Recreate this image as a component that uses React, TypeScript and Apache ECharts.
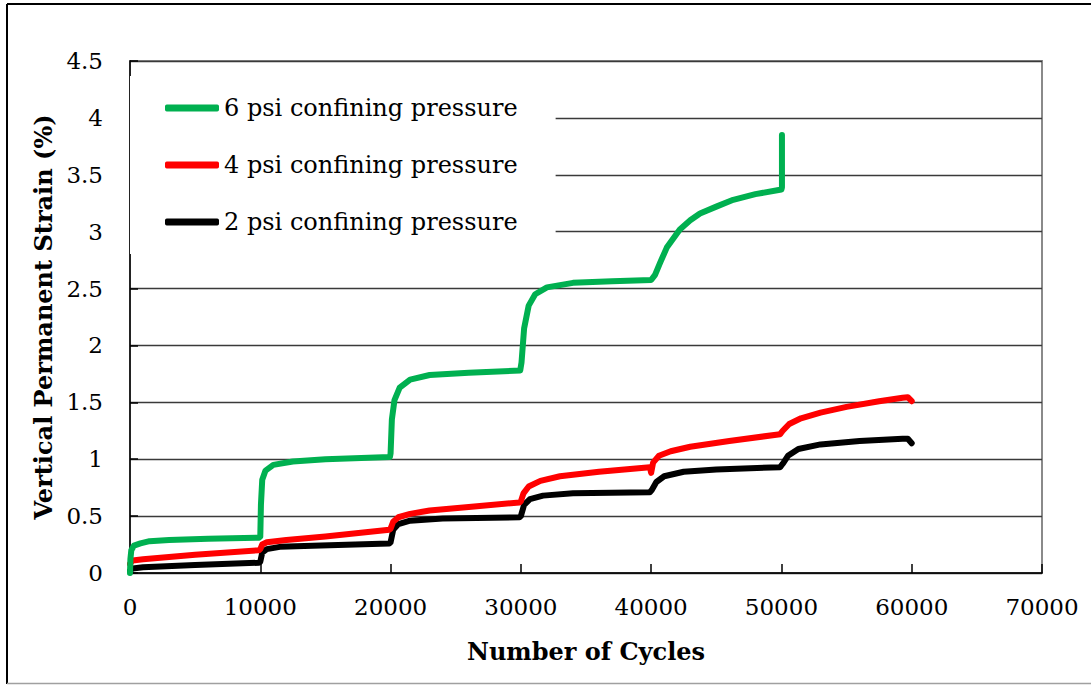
import React, { useEffect, useRef } from "react";
import * as echarts from "echarts";

const xTicks = [0, 10000, 20000, 30000, 40000, 50000, 60000, 70000];
const seriesNames = ["6 psi confining pressure", "4 psi confining pressure", "2 psi confining pressure"];
const seriesColors = ["#00b050", "#ff0000", "#000000"];

const cycles6 = [0, 30, 100, 300, 800, 1500, 3000, 6000, 9900, 10000, 10050, 10150, 10400, 11000, 12500, 15000, 19950, 20000, 20100, 20300, 20700, 21500, 23000, 26000, 29950, 30050, 30250, 30600, 31100, 32000, 34000, 37000, 40000, 40300, 40700, 41200, 42200, 43000, 43750, 45000, 46300, 48000, 50000, 50040, 50040];
const strain6 = [0, 0.12, 0.2, 0.24, 0.26, 0.28, 0.29, 0.3, 0.31, 0.32, 0.6, 0.82, 0.9, 0.95, 0.98, 1.0, 1.02, 1.05, 1.35, 1.52, 1.63, 1.7, 1.74, 1.76, 1.78, 1.85, 2.15, 2.35, 2.45, 2.51, 2.55, 2.565, 2.575, 2.62, 2.73, 2.86, 3.02, 3.1, 3.16, 3.22, 3.28, 3.33, 3.37, 3.39, 3.85];

const cycles4 = [0, 200, 1000, 5000, 9900, 10000, 10150, 10500, 12000, 15000, 19900, 20000, 20200, 20600, 21500, 23000, 26000, 29900, 30000, 30200, 30600, 31500, 33000, 36000, 39900, 40000, 40150, 40600, 41500, 43000, 46000, 49900, 50100, 50600, 51500, 53000, 55000, 57500, 59300, 59700, 60000];
const strain4 = [0.08, 0.11, 0.12, 0.16, 0.2, 0.21, 0.25, 0.27, 0.29, 0.32, 0.38, 0.39, 0.45, 0.49, 0.52, 0.55, 0.58, 0.62, 0.63, 0.7, 0.76, 0.81, 0.85, 0.89, 0.93, 0.88, 0.97, 1.03, 1.07, 1.11, 1.16, 1.22, 1.25, 1.31, 1.36, 1.41, 1.46, 1.51, 1.54, 1.545, 1.51];

const cycles2 = [0, 200, 1000, 5000, 9900, 10000, 10150, 10500, 11500, 14000, 19900, 20000, 20200, 20600, 21500, 24000, 29900, 30000, 30250, 30700, 31700, 34000, 39900, 40050, 40400, 41000, 42500, 45000, 49900, 50100, 50500, 51300, 53000, 56000, 59300, 59700, 60000];
const strain2 = [0.02, 0.04, 0.05, 0.07, 0.09, 0.1, 0.18, 0.21, 0.23, 0.24, 0.26, 0.27, 0.38, 0.43, 0.46, 0.48, 0.49, 0.5, 0.6, 0.65, 0.68, 0.7, 0.71, 0.73, 0.8, 0.85, 0.89, 0.91, 0.93, 0.96, 1.03, 1.09, 1.13, 1.16, 1.18, 1.18, 1.14];

const pair = (xs: number[], ys: number[]) => xs.map((x, i) => [x, ys[i]]);

export default function App() {
  const ref = useRef<HTMLDivElement>(null);
  useEffect(() => {
    if (!ref.current) return;
    const chart = echarts.init(ref.current, null, { renderer: "svg" });
    const serif = "DejaVu Serif";
    const data = [pair(cycles6, strain6), pair(cycles4, strain4), pair(cycles2, strain2)];
    chart.setOption({
      animation: false,
      backgroundColor: "#ffffff",
      grid: {
        left: 130,
        right: 49,
        top: 61,
        bottom: 112,
        show: true,
        borderColor: "#8a8a8a",
        borderWidth: 2,
        backgroundColor: "transparent",
      },
      legend: {
        orient: "vertical",
        left: 130,
        top: 76,
        icon: "roundRect",
        itemWidth: 54,
        itemHeight: 7,
        itemGap: 29,
        padding: [18, 38, 18, 35],
        backgroundColor: "#ffffff",
        data: seriesNames,
        textStyle: { fontFamily: serif, fontSize: 24, lineHeight: 28, color: "#000" },
      },
      xAxis: {
        type: "value",
        min: 0,
        max: 70000,
        interval: 10000,
        name: "Number of Cycles",
        nameLocation: "middle",
        nameGap: 66,
        nameTextStyle: { fontFamily: serif, fontSize: 24, fontWeight: "bold", color: "#000" },
        axisLine: { show: true, lineStyle: { color: "#000", width: 1.5 } },
        axisTick: { show: true, inside: true, length: 9, lineStyle: { color: "#000", width: 1.5 } },
        axisLabel: {
          fontFamily: serif,
          fontSize: 23,
          color: "#000",
          margin: 22,
          formatter: (v: number) => (xTicks.includes(v) ? String(v) : ""),
        },
        splitLine: { show: false },
      },
      yAxis: {
        type: "value",
        min: 0,
        max: 4.5,
        interval: 0.5,
        name: "Vertical Permanent Strain (%)",
        nameLocation: "middle",
        nameGap: 74,
        nameTextStyle: { fontFamily: serif, fontSize: 24, fontWeight: "bold", color: "#000" },
        axisLine: { show: true, lineStyle: { color: "#000", width: 1.5 } },
        axisTick: { show: true, inside: true, length: 8, lineStyle: { color: "#000", width: 1.5 } },
        axisLabel: { fontFamily: serif, fontSize: 23, color: "#000", margin: 27 },
        splitLine: { show: true, lineStyle: { color: "#3a3a3a", width: 1.3 } },
      },
      series: seriesNames.map((name, i) => ({
        name,
        type: "line",
        data: data[i],
        showSymbol: false,
        symbol: "none",
        color: seriesColors[i],
        lineStyle: { color: seriesColors[i], width: 6, cap: "round", join: "round" },
        z: 10 - i,
      })),
      graphic: [
        { type: "line", shape: { x1: 7, y1: 4, x2: 7, y2: 684 }, style: { stroke: "#000", lineWidth: 2 } },
        { type: "line", shape: { x1: 7, y1: 4, x2: 1091, y2: 4 }, style: { stroke: "#000", lineWidth: 2 } },
        { type: "line", shape: { x1: 7, y1: 683.5, x2: 1091, y2: 683.5 }, style: { stroke: "#a0a0a0", lineWidth: 1.5 } },
      ],
    });
    return () => chart.dispose();
  }, []);
  return (
    <div
      ref={ref}
      style={{ position: "fixed", left: 0, top: 0, width: 1091, height: 685, background: "#fff" }}
    />
  );
}
